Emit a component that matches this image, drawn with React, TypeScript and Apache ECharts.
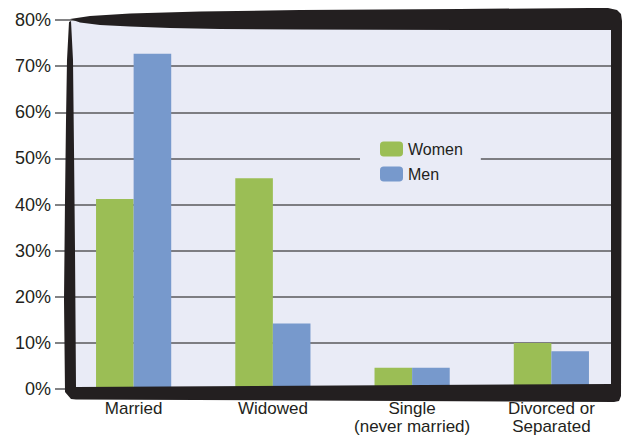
import React, { useEffect, useRef } from "react";
import * as echarts from "echarts";

// Marital status shares, in percent
const categories = ["Married", "Widowed", "Single\n(never married)", "Divorced or\nSeparated"];
const women = [41.2, 45.7, 4.6, 10];
const men = [72.7, 14.2, 4.6, 8.2];
const seriesNames = ["Women", "Men"];
const yTicks = { min: 0, max: 80, interval: 10 };

const INK = "#231f20";
const PANEL = "#e9ebf6";
const GREEN = "#9bbe55";
const BLUE = "#7799cc";
const FONT = "Liberation Sans, Arial, sans-serif";

// Hand-drawn looking frame: outer outline clockwise, then inner outline
// counter-clockwise, so the middle stays open.
const frameOuter: number[][] = [
  [70, 19], [90, 16], [130, 13.5], [200, 11.5], [300, 10], [460, 9], [590, 8], [608, 8],
  [617, 10], [621, 14], [622, 21], [621, 396], [619, 401], [614, 402],
  [76, 399.5], [71, 399], [65, 392], [64, 300], [65, 200], [66, 120], [67, 60], [69, 22],
];
const frameInner: number[][] = [
  [71, 21], [73, 60], [74, 150], [75, 250], [76, 387], [611, 384], [611, 30],
  [460, 30], [300, 29.5], [220, 29], [170, 28], [130, 26.5], [100, 25], [80, 22.5],
];

export default function App() {
  const ref = useRef<HTMLDivElement>(null);

  useEffect(() => {
    document.body.style.margin = "0";
    if (!ref.current) return;
    const chart = echarts.init(ref.current, null, { renderer: "svg" });

    chart.setOption({
      animation: false,
      textStyle: { fontFamily: FONT },
      grid: { left: 64, right: 2, top: 20, bottom: 42, containLabel: false },
      legend: {
        orient: "vertical",
        left: 360,
        top: 133,
        padding: [8, 18, 8, 20],
        itemGap: 9,
        itemWidth: 23,
        itemHeight: 15,
        backgroundColor: PANEL,
        data: seriesNames,
        textStyle: { fontSize: 16, color: INK, fontFamily: FONT },
      },
      xAxis: {
        type: "category",
        data: categories,
        axisLine: { show: false },
        axisTick: { show: false },
        axisLabel: {
          fontSize: 17,
          lineHeight: 18,
          color: INK,
          margin: 10,
          interval: 0,
          fontFamily: FONT,
        },
      },
      yAxis: {
        type: "value",
        min: yTicks.min,
        max: yTicks.max,
        interval: yTicks.interval,
        axisLine: { show: false },
        axisTick: { show: true, length: 9, lineStyle: { color: "#58585b", width: 1.5 } },
        axisLabel: {
          formatter: "{value}%",
          fontSize: 18,
          color: INK,
          margin: 13,
          fontFamily: FONT,
        },
        splitLine: { show: true, lineStyle: { color: "#58585b", width: 1.5 } },
      },
      series: [
        {
          name: seriesNames[0],
          type: "bar",
          data: women,
          barWidth: "27%",
          barGap: "0%",
          itemStyle: { color: GREEN },
        },
        {
          name: seriesNames[1],
          type: "bar",
          data: men,
          barWidth: "27%",
          barGap: "0%",
          itemStyle: { color: BLUE },
        },
      ],
      graphic: [
        {
          type: "rect",
          z: -1,
          silent: true,
          shape: { x: 70, y: 21, width: 546, height: 371 },
          style: { fill: PANEL },
        },
        {
          type: "polygon",
          z: 50,
          silent: true,
          shape: { points: [...frameOuter, ...frameInner] },
          style: { fill: INK },
        },
      ],
    });

    return () => chart.dispose();
  }, []);

  return <div ref={ref} style={{ width: 623, height: 435 }} />;
}
